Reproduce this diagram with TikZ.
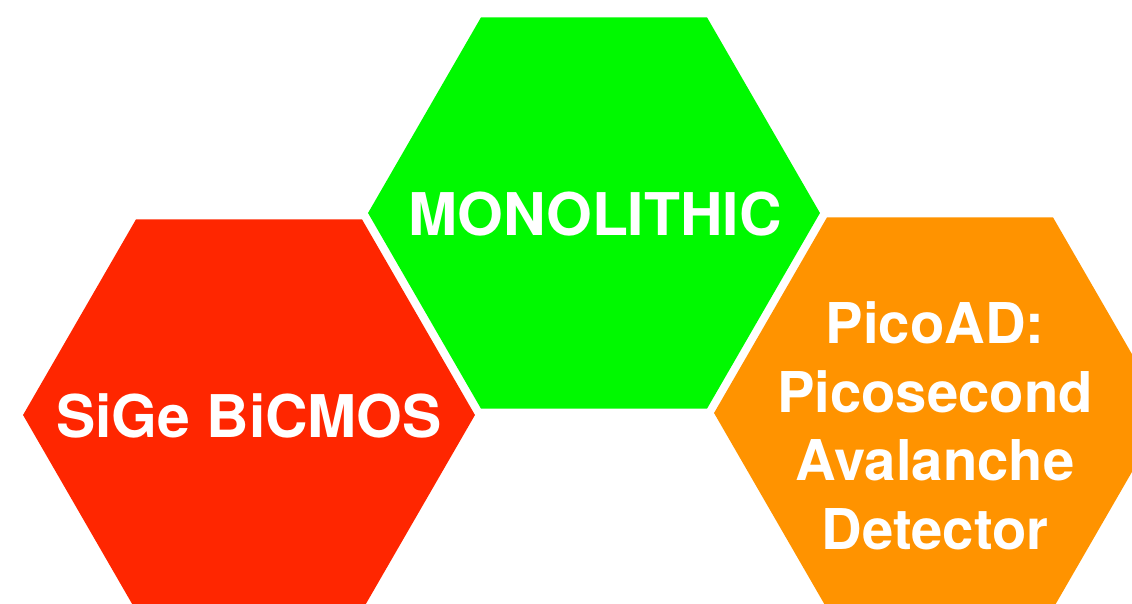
\documentclass[tikz,border=0pt]{standalone}
\usepackage{fontspec}
\setmainfont{TeX Gyre Heros}
\usetikzlibrary{shapes.geometric, positioning}

\definecolor{rojo}{RGB}{255,38,0}
\definecolor{verde}{RGB}{0,249,0}
\definecolor{naranja}{RGB}{255,147,0}

\begin{document}
\begin{tikzpicture}[x=0.02cm, y=-0.02cm]
  % Estilos de los hexágonos y de los textos
  \tikzstyle{hexa} = [regular polygon, regular polygon sides=6, minimum size=9.04cm, inner sep=0pt, draw=none]
  \tikzstyle{etiqueta} = [text=white, font=\fontsize{33.5}{39}\selectfont\bfseries, align=center, inner sep=0pt]

  % Marco de la figura
  \useasboundingbox (0,0) rectangle (1132,603);
  \clip (0,0) rectangle (1132,603);

  % Hexágonos
  \node [hexa, fill=rojo] (sige) at (249,415) {};
  \node [hexa, fill=verde] (mono) at (594,213) {};
  \node [hexa, fill=naranja] (picoad) at (940,413) {};

  % Textos
  \node [etiqueta, anchor=base] (sigetxt) at (249,437) {SiGe BiCMOS};
  \node [etiqueta, anchor=base] (monotxt) at (595,235) {MONOLITHIC};
  \node [etiqueta, font=\fontsize{32}{39}\selectfont\bfseries] (picoadtxt) at (935,426) {PicoAD:\\Picosecond\\Avalanche\\Detector};
\end{tikzpicture}
\end{document}
